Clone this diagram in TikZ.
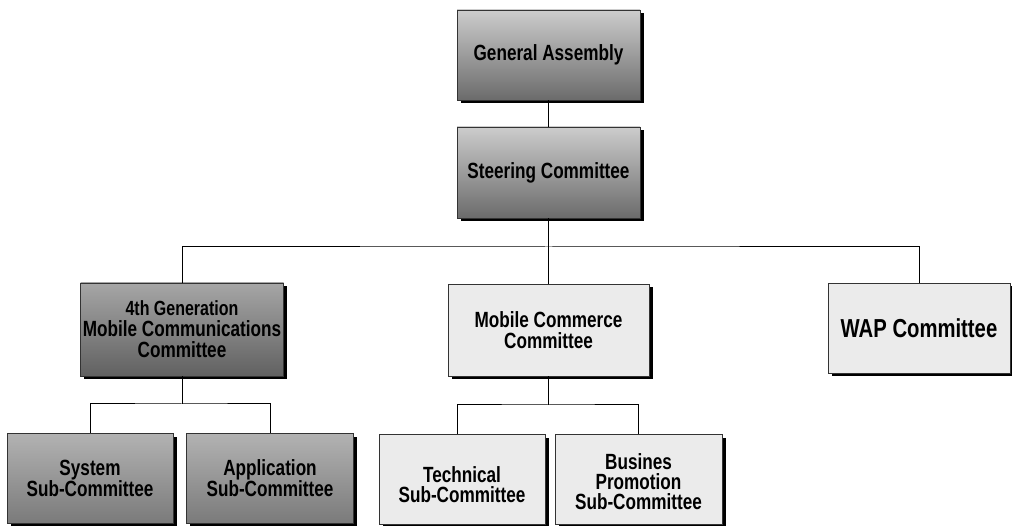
\documentclass[tikz,border=0pt]{standalone}
\usepackage{fontspec}
\newfontfamily\boxfont[FakeStretch=0.78]{Liberation Sans}
\usetikzlibrary{shadows}
\tikzset{
  base/.style={draw=black!80, line width=0.7pt, rectangle, align=center, inner sep=2pt,
    font=\boxfont\bfseries\fontsize{22}{21}\selectfont,
    drop shadow={shadow xshift=3.5pt, shadow yshift=-3.5pt, fill=black, opacity=1}},
  darkbox/.style={base, top color=black!20, bottom color=black!58},
  darkerbox/.style={base, top color=black!35, bottom color=black!62},
  midbox/.style={base, top color=black!30, bottom color=black!52},
  lightbox/.style={base, fill=black!8},
  link/.style={draw=black, line width=1pt}
}
\begin{document}
\begin{tikzpicture}[x=1pt,y=-1pt]
\useasboundingbox (0,0) rectangle (1012,526);
% top
\node[darkbox, minimum width=183, minimum height=90] (GA) at (548.5,55) {General Assembly};
\node[darkbox, minimum width=183, minimum height=91] (SC) at (548.5,172.5) {Steering Committee};
% middle row
\node[darkerbox, minimum width=203, minimum height=93] (G4) at (182,329.5)
  {\fontsize{20.5}{19.5}\selectfont 4th Generation\\ Mobile Communications\\ Committee};
\node[lightbox, minimum width=201, minimum height=92] (MC) at (548.5,330) {Mobile Commerce\\ Committee};
\node[lightbox, minimum width=182, minimum height=90, font=\boxfont\bfseries\fontsize{26}{26}\selectfont] (WAP) at (919,328) {WAP Committee};
% bottom row
\node[midbox, minimum width=166, minimum height=90] (SYS) at (90,478) {System\\ Sub-Committee};
\node[midbox, minimum width=167, minimum height=90] (APP) at (270,478) {Application\\ Sub-Committee};
\node[lightbox, minimum width=166, minimum height=90, font=\boxfont\bfseries\fontsize{22}{20}\selectfont] (TEC) at (462,479) {\mbox{}\\[8pt] Technical\\ Sub-Committee};
\node[lightbox, minimum width=167, minimum height=90, font=\boxfont\bfseries\fontsize{22}{20}\selectfont] (BUS) at (638.5,479) {\mbox{}\\[2pt] Busines\\ Promotion\\ Sub-Committee};
% connector junctions
\coordinate (bus) at (548.5,247);
\coordinate (j1) at (182,404);
\coordinate (j2) at (548.5,405);
% connectors
\draw[link] (GA.south) -- (SC.north);
\draw[link] (SC.south) -- (bus);
\draw[link] (G4.north) |- (bus) -| (WAP.north);
\draw[link] (bus) -- (MC.north);
\draw[link] (G4.south) -- (j1);
\draw[link] (SYS.north) |- (j1) -| (APP.north);
\draw[link] (MC.south) -- (j2);
\draw[link] ([xshift=-5pt]TEC.north) |- (j2) -| (BUS.north);
\end{tikzpicture}
\end{document}
